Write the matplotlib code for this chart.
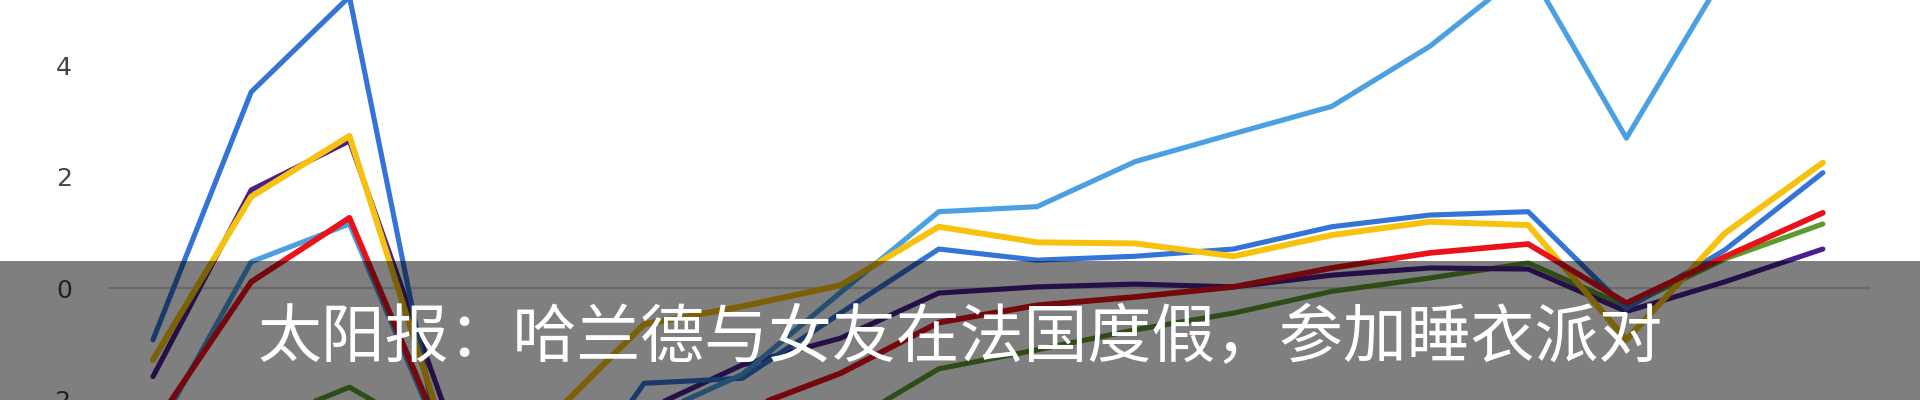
import numpy as np
import matplotlib
matplotlib.use("Agg")
import matplotlib.pyplot as plt
from matplotlib.patches import Rectangle

plt.rcParams['font.family'] = ['Noto Sans CJK SC', 'DejaVu Sans']

# data (18 points per series)
x_idx = list(range(18))
light_blue = [-2.7, 0.47, 1.15, -3.0, -2.7, -2.35, -1.55, -0.08, 1.37, 1.46, 2.27, 2.77, 3.26, 4.34, 5.74, 2.69, 5.64, 6.5]
dark_blue = [-0.93, 3.52, 5.23, -3.5, -4.2, -1.71, -1.62, -0.45, 0.70, 0.50, 0.57, 0.70, 1.10, 1.31, 1.37, -0.37, 0.68, 2.07]
yellow = [-1.29, 1.64, 2.73, -2.8, -2.4, -0.65, -0.33, 0.05, 1.10, 0.82, 0.80, 0.57, 0.95, 1.19, 1.13, -0.93, 0.98, 2.25]
purple = [-1.59, 1.76, 2.64, -2.3, -2.4, -2.2, -1.38, -0.90, -0.09, 0.02, 0.07, 0.02, 0.23, 0.36, 0.34, -0.42, 0.11, 0.70]
red = [-2.5, 0.11, 1.26, -2.9, -2.7, -2.5, -2.2, -1.53, -0.62, -0.31, -0.16, 0.02, 0.36, 0.63, 0.79, -0.27, 0.56, 1.35]
green = [-3.0, -2.5, -1.78, -2.8, -3.2, -3.0, -2.8, -2.5, -1.45, -1.11, -0.75, -0.45, -0.06, 0.18, 0.45, -0.33, 0.52, 1.15]

y_ticks = [-2, 0, 2, 4]
y_labels = ["-2", "0", "2", "4"]
caption = "太阳报：哈兰德与女友在法国度假，参加睡衣派对"

fig = plt.figure(figsize=(19.2, 4), dpi=100)
fig.patch.set_facecolor("white")
ax = fig.add_axes([0.05625, 0.0, 0.9177, 1.0])
ax.set_facecolor("white")

ax.axhline(0, color="#d2d2d2", lw=1.6, zorder=1)

lw = 3.7
style = dict(solid_capstyle="round", solid_joinstyle="round")
ax.plot(x_idx, green, color="#5e9a2c", lw=lw, zorder=2, **style)
ax.plot(x_idx, purple, color="#4a1f8e", lw=lw, zorder=3, **style)
ax.plot(x_idx, dark_blue, color="#3474d6", lw=lw, zorder=4, **style)
ax.plot(x_idx, light_blue, color="#4aa0e2", lw=lw, zorder=5, **style)
ax.plot(x_idx, yellow, color="#f7c20e", lw=lw + 0.6, zorder=6, **style)
ax.plot(x_idx, red, color="#ea1219", lw=lw + 0.4, zorder=7, **style)

ax.set_xlim(-0.458, 17.48)
ax.set_ylim(-2.01, 5.17)
ax.set_xticks([])
ax.set_yticks(y_ticks)
ax.set_yticklabels(y_labels, fontsize=18, color="#444444", family=["DejaVu Sans"])
ax.tick_params(axis="y", length=0, pad=26)
for s in ax.spines.values():
    s.set_visible(False)

# grey caption band over the lower part
band_h = (400 - 261) / 400
fig.add_artist(Rectangle((0, 0), 1, band_h, transform=fig.transFigure,
                         facecolor="black", alpha=0.5, edgecolor="none", zorder=10))
fig.text(0.5, 61 / 400, caption, color="white", fontsize=46,
         ha="center", va="center", zorder=11)

fig.savefig("out.png", dpi=100, facecolor="white")
